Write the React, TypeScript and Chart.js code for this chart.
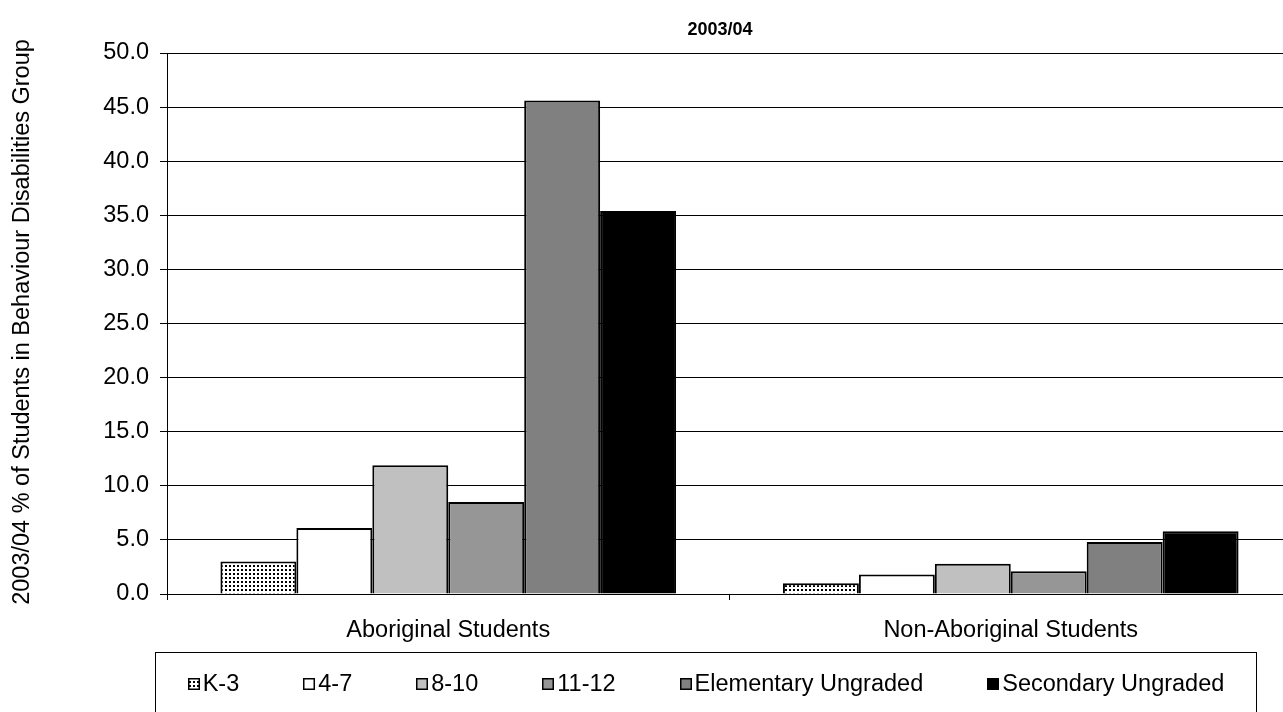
import React, { useEffect, useRef } from "react";
import { Chart, registerables } from "chart.js";

Chart.register(...registerables);

const categories = ["Aboriginal Students", "Non-Aboriginal Students"];
const seriesNames = ["K-3", "4-7", "8-10", "11-12", "Elementary Ungraded", "Secondary Ungraded"];
const k3Values = [3.0, 1.0];
const g47Values = [6.1, 1.8];
const g810Values = [11.9, 2.8];
const g1112Values = [8.5, 2.1];
const elementaryUngradedValues = [45.6, 4.8];
const secondaryUngradedValues = [35.4, 5.8];
const yMin = 0;
const yMax = 50;
const yStep = 5;
const chartTitle = "2003/04";
const yAxisTitle = "2003/04 % of Students in Behaviour Disabilities Group";

const FONT = "Arial, 'Liberation Sans', sans-serif";
const TEXT_SIZE = 23.5;

function makeDotPattern(ctx: CanvasRenderingContext2D): CanvasPattern | string {
  const c = document.createElement("canvas");
  c.width = 4;
  c.height = 4;
  const p = c.getContext("2d");
  if (!p) return "#fff";
  p.fillStyle = "#ffffff";
  p.fillRect(0, 0, 4, 4);
  p.fillStyle = "#000000";
  p.fillRect(1, 1, 2, 2);
  return ctx.createPattern(c, "repeat") || "#fff";
}

const decorPlugin = {
  id: "decor",
  afterDraw(chart: any) {
    const ctx: CanvasRenderingContext2D = chart.ctx;
    ctx.save();
    ctx.fillStyle = "#000";
    // title
    ctx.font = `bold 18px ${FONT}`;
    ctx.textAlign = "center";
    ctx.textBaseline = "middle";
    ctx.fillText(chartTitle, 720, 30);
    // y axis title
    ctx.save();
    ctx.translate(23, 322);
    ctx.rotate(-Math.PI / 2);
    ctx.font = `${TEXT_SIZE}px ${FONT}`;
    ctx.fillText(yAxisTitle, 0, 0);
    ctx.restore();
    // legend frame
    ctx.strokeStyle = "#000";
    ctx.lineWidth = 1;
    ctx.strokeRect(155.5, 652.5, 1101, 80);
    // legend items
    ctx.font = `${TEXT_SIZE}px ${FONT}`;
    ctx.textAlign = "left";
    const box = 12;
    const textGap = 3;
    const itemGap = 64;
    const datasets = chart.data.datasets;
    const widths = datasets.map((d: any) => box + textGap + ctx.measureText(d.label).width);
    const total = widths.reduce((a: number, b: number) => a + b, 0) + itemGap * (widths.length - 1);
    let x = 706 - total / 2;
    const cy = 684;
    datasets.forEach((d: any, i: number) => {
      const bx = Math.round(x);
      ctx.fillStyle = d.backgroundColor;
      ctx.fillRect(bx, cy - 6, box, box);
      ctx.strokeStyle = "#000";
      ctx.lineWidth = 1.5;
      ctx.strokeRect(bx + 0.75, cy - 6 + 0.75, box - 1.5, box - 1.5);
      ctx.fillStyle = "#000";
      ctx.textBaseline = "middle";
      ctx.fillText(d.label, x + box + textGap, cy + 1);
      x += widths[i] + itemGap;
    });
    ctx.restore();
  },
};

export default function App() {
  const ref = useRef<HTMLCanvasElement | null>(null);

  useEffect(() => {
    document.body.style.margin = "0";
    document.body.style.overflow = "hidden";
    const canvas = ref.current;
    if (!canvas) return;
    const ctx = canvas.getContext("2d");
    if (!ctx) return;
    const pattern = makeDotPattern(ctx);
    const values = [
      k3Values,
      g47Values,
      g810Values,
      g1112Values,
      elementaryUngradedValues,
      secondaryUngradedValues,
    ];
    const fills: any[] = [pattern, "#ffffff", "#c0c0c0", "#969696", "#808080", "#000000"];
    const borders = ["#000000", "#000000", "#000000", "#000000", "#000000", "#000000"];

    const chart = new Chart(ctx, {
      type: "bar",
      data: {
        labels: categories,
        datasets: seriesNames.map((name, i) => ({
          label: name,
          data: values[i],
          backgroundColor: fills[i],
          borderColor: borders[i],
          borderWidth: 2,
          categoryPercentage: 0.81,
          barPercentage: 1.0,
        })),
      },
      options: {
        responsive: true,
        maintainAspectRatio: false,
        animation: false,
        layout: { padding: { top: 53, left: 0, right: 2, bottom: 68 } },
        plugins: {
          legend: { display: false },
          title: { display: false },
          tooltip: { enabled: false },
        },
        scales: {
          x: {
            type: "category",
            offset: true,
            afterFit: (s: any) => {
              s.height = 50;
            },
            grid: {
              offset: true,
              drawOnChartArea: false,
              drawTicks: true,
              tickLength: 6,
              color: "#000",
            },
            border: { color: "#000", width: 1 },
            ticks: {
              color: "#000",
              font: { family: FONT, size: TEXT_SIZE },
              padding: 16,
              maxRotation: 0,
            },
          },
          y: {
            min: yMin,
            max: yMax,
            afterFit: (s: any) => {
              s.width = 167;
            },
            grid: {
              color: "#000",
              lineWidth: 1,
              tickLength: 7,
              drawTicks: true,
            },
            border: { color: "#000", width: 1 },
            ticks: {
              stepSize: yStep,
              color: "#000",
              font: { family: FONT, size: TEXT_SIZE },
              padding: 11,
              callback: (v: any) => Number(v).toFixed(1),
            },
          },
        },
      },
      plugins: [decorPlugin],
    });
    return () => chart.destroy();
  }, []);

  return (
    <div style={{ width: "1283px", height: "712px", overflow: "hidden" }}>
      <div style={{ position: "relative", width: "1294px", height: "712px" }}>
        <canvas ref={ref} />
      </div>
    </div>
  );
}
